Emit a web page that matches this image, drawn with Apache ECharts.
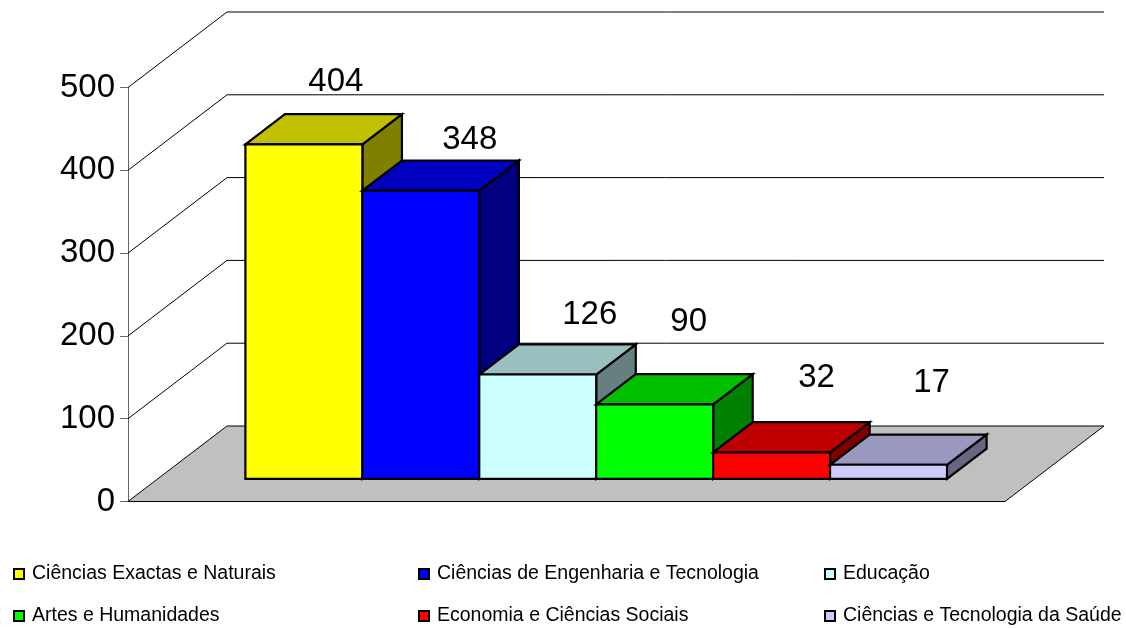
<!DOCTYPE html>
<html><head><meta charset="utf-8">
<style>html,body{margin:0;padding:0;background:#fff}#c{width:1126px;height:628px}</style>
<script src="https://cdn.jsdelivr.net/npm/echarts@6/dist/echarts.min.js"></script>
</head><body><div id="c"></div>
<script>
const categories = ['Ciências Exactas e Naturais','Ciências de Engenharia e Tecnologia','Educação','Artes e Humanidades','Economia e Ciências Sociais','Ciências e Tecnologia da Saúde'];
const values = [404,348,126,90,32,17];
const yTicks = [0,100,200,300,400,500];
const colors = ['#FFFF00','#0000FF','#CCFFFF','#00FF00','#FF0000','#CCCCFF'];
const topColors = ['#C0C000','#0000C0','#99BFBF','#00C000','#C00000','#9999BF'];
const sideColors = ['#808000','#000080','#667F7F','#008000','#800000','#666680'];
const labelNudgeX = [32,49,52,34,45,43];
const labelNudgeY = [-62,-51,-60,-82,-74,-82];
const legendLeft = [13,418,824,13,418,824];
const legendTop = [564,564,564,606,606,606];

const DX = 99, DY = 75.5;               // full floor depth in pixels
const FRONT = 0.3, DEPTH = 0.4;         // bar offset and bar depth, as share of the floor depth
const GAP = 1.5;                        // gap width, in bar widths
const ink = {stroke:'#000', lineWidth:2.2, lineJoin:'miter'};

function poly(points, fill, style){
  return {type:'polygon', shape:{points}, style:Object.assign({fill}, style||ink)};
}
function barRender(i){
  return function(params, api){
    const top = api.coord([0, api.value(1)]);
    const base = api.coord([0, 0]);
    const band = api.size([1,0])[0];
    const w = band/(categories.length+GAP);
    const x0 = top[0] + DX*FRONT - w*categories.length/2 + i*w;
    const x1 = x0 + w;
    const yb = base[1] - DY*FRONT;
    const yt = top[1] - DY*FRONT;
    const dx = DX*DEPTH, dy = DY*DEPTH;
    return {type:'group', children:[
      poly([[x1,yb],[x1+dx,yb-dy],[x1+dx,yt-dy],[x1,yt]], sideColors[i]),
      poly([[x0,yt],[x0+dx,yt-dy],[x1+dx,yt-dy],[x1,yt]], topColors[i]),
      poly([[x0,yb],[x1,yb],[x1,yt],[x0,yt]], colors[i]),
      {type:'text', style:{text:String(api.value(1)), x:(x0+x1)/2+labelNudgeX[i], y:yt+labelNudgeY[i],
        align:'center', verticalAlign:'middle', fill:'#000', font:'33px "Liberation Sans"'}}
    ]};
  };
}
const wallSeries = {
  type:'custom', silent:true, coordinateSystem:'cartesian2d', clip:false, z:1,
  encode:{x:0,y:1}, data:yTicks.filter(v=>v>0).map(v=>[0,v]),
  renderItem(params, api){
    const p = api.coord([0, api.value(1)]);
    const half = api.size([1,0])[0]/2;
    const l = p[0]-half, r = p[0]+half;
    return {type:'polyline', shape:{points:[[l,p[1]],[l+DX,p[1]-DY],[r+DX,p[1]-DY]]},
      style:{fill:null, stroke:'#000', lineWidth:1}};
  }
};
const floorSeries = {
  type:'custom', silent:true, coordinateSystem:'cartesian2d', clip:false, z:2,
  encode:{x:0,y:1}, data:[[0,0]],
  renderItem(params, api){
    const p = api.coord([0, 0]);
    const half = api.size([1,0])[0]/2;
    const l = p[0]-half, r = p[0]+half;
    return poly([[l,p[1]],[l+DX,p[1]-DY],[r+DX,p[1]-DY],[r,p[1]]], '#C0C0C0', {stroke:'#000', lineWidth:1});
  }
};
const barSeries = categories.map((name,i)=>({
  name, type:'custom', coordinateSystem:'cartesian2d', clip:false, z:3+i,
  encode:{x:0,y:1}, itemStyle:{color:colors[i]},
  data:[[0,values[i]]], renderItem:barRender(i)
}));
const chart = echarts.init(document.getElementById('c'), null, {renderer:'canvas'});
chart.setOption({
  animation:false,
  backgroundColor:'#fff',
  grid:{left:128, top:87.5, width:877, height:414},
  xAxis:{type:'category', data:[''], z:20,
    axisLine:{show:true, lineStyle:{color:'#000',width:1}}, axisTick:{show:false}, axisLabel:{show:false}, splitLine:{show:false}},
  yAxis:{type:'value', min:0, max:500, interval:100,
    axisLine:{show:true, lineStyle:{color:'#666',width:1}},
    axisTick:{show:true, length:8, lineStyle:{color:'#666',width:1}},
    axisLabel:{fontFamily:'Liberation Sans', fontSize:33, color:'#000', margin:13, padding:[8,0,0,0]},
    splitLine:{show:false}},
  legend:categories.map((name,i)=>({
    data:[name], left:legendLeft[i], top:legendTop[i], padding:0, icon:'rect',
    itemWidth:10, itemHeight:10, itemGap:0, selectedMode:false,
    itemStyle:{borderColor:'#000', borderWidth:2},
    textStyle:{fontFamily:'Liberation Sans', fontSize:19.5, color:'#000', padding:[0,0,0,3]}
  })),
  series:[wallSeries, floorSeries].concat(barSeries)
});
</script></body></html>
